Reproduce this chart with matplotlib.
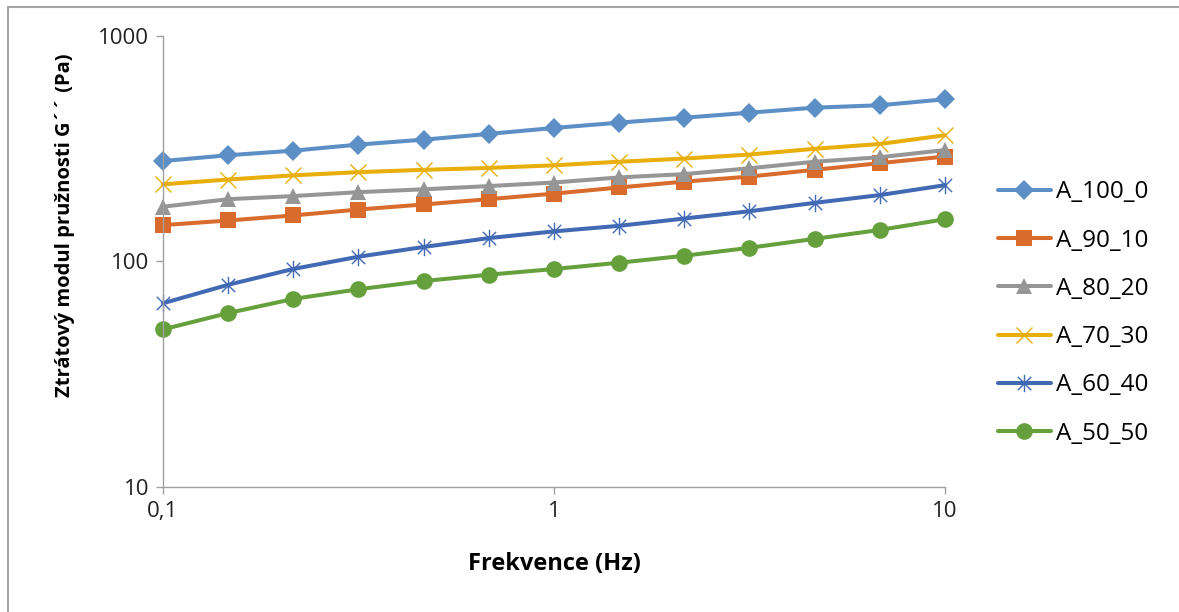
import matplotlib
matplotlib.use("Agg")
import matplotlib.pyplot as plt
from matplotlib.path import Path
from matplotlib.patches import Rectangle

# frequency sweep (Hz)
freq = [0.1, 0.147, 0.215, 0.316, 0.464, 0.681, 1.0, 1.47, 2.15, 3.16, 4.64, 6.81, 10.0]

# loss modulus G'' (Pa)
a_100_0 = [279, 296, 310, 330, 347, 368, 391, 413, 434, 457, 481, 493, 524]
a_90_10 = [145, 152, 160, 170, 179, 189, 200, 213, 226, 238, 255, 273, 292]
a_80_20 = [175, 189, 195, 203, 209, 216, 224, 236, 244, 259, 277, 290, 312]
a_70_30 = [220, 231, 241, 249, 255, 260, 267, 277, 286, 298, 316, 332, 363]
a_60_40 = [65.3, 78.9, 92.6, 105, 116, 127, 136, 144, 155, 167, 182, 197, 218]
a_50_50 = [50.0, 59.1, 68.2, 75.3, 81.9, 87.4, 92.6, 98.8, 106, 115, 126, 138, 154]

series_names = ["A_100_0", "A_90_10", "A_80_20", "A_70_30", "A_60_40", "A_50_50"]

x_ticks = [0.1, 1, 10]
x_ticklabels = ["0,1", "1", "10"]
y_ticks = [10, 100, 1000]
y_ticklabels = ["10", "100", "1000"]

plt.rcParams['font.family'] = ['Open Sans', 'DejaVu Sans']

# Excel style asterisk marker: x plus vertical bar
asterisk = Path(
    [(-1, -1), (1, 1), (-1, 1), (1, -1), (0, -1.3), (0, 1.3)],
    [Path.MOVETO, Path.LINETO, Path.MOVETO, Path.LINETO, Path.MOVETO, Path.LINETO],
)

styles = [
    dict(color='#5B8FC5', marker='D', ms=10),
    dict(color='#D96C2C', marker='s', ms=11),
    dict(color='#969696', marker='^', ms=12),
    dict(color='#E8AE0C', marker='x', ms=12, mew=1.0),
    dict(color='#4169B4', marker=asterisk, ms=12.5, mew=1.0),
    dict(color='#65A03D', marker='o', ms=12),
]
all_data = [a_100_0, a_90_10, a_80_20, a_70_30, a_60_40, a_50_50]

fig = plt.figure(figsize=(11.79, 6.12), dpi=100)
ax = fig.add_axes([163 / 1179, 1 - 487 / 612, (945 - 163) / 1179, (487 - 36) / 612])

for name, vals, st in zip(series_names, all_data, styles):
    ax.plot(freq, vals, label=name, lw=2.9, color=st['color'], marker=st['marker'],
            ms=st['ms'], mew=st.get('mew', 0), mec=st['color'], mfc=st['color'],
            solid_capstyle='round', clip_on=False)

ax.set_xscale('log')
ax.set_yscale('log')
ax.set_xlim(0.1, 10)
ax.set_ylim(10, 1000)
ax.set_xticks(x_ticks)
ax.set_xticklabels(x_ticklabels)
ax.set_yticks(y_ticks)
ax.set_yticklabels(y_ticklabels)
ax.minorticks_off()

for side in ['top', 'right']:
    ax.spines[side].set_visible(False)
for side in ['left', 'bottom']:
    ax.spines[side].set_color('#A0A0A0')
    ax.spines[side].set_linewidth(1.0)
ax.tick_params(direction='out', length=5, width=1.0, color='#A0A0A0',
               labelsize=16, labelcolor='#222222', pad=5)

ax.set_xlabel("Frekvence (Hz)", fontsize=17, fontweight='bold', labelpad=22)
ax.set_ylabel("Ztrátový modul pružnosti G´´ (Pa)", fontsize=14.5, fontweight='bold')
ax.yaxis.set_label_coords(-0.113, 0.58)

leg = ax.legend(loc='center left', bbox_to_anchor=(988 / 1179, 1 - 313 / 612),
                bbox_transform=fig.transFigure, frameon=False, fontsize=17.5,
                handlelength=2.2, handletextpad=0.2, labelspacing=1.0,
                borderaxespad=0)

# chart outline (cropped at right and bottom like the source)
fig.patches.append(Rectangle((8 / 1179, -0.05), 1.1, 1 - 7 / 612 + 0.05,
                             transform=fig.transFigure, fill=False,
                             edgecolor='#A6A6A6', lw=1.5))

fig.savefig("out.png", dpi=100)
